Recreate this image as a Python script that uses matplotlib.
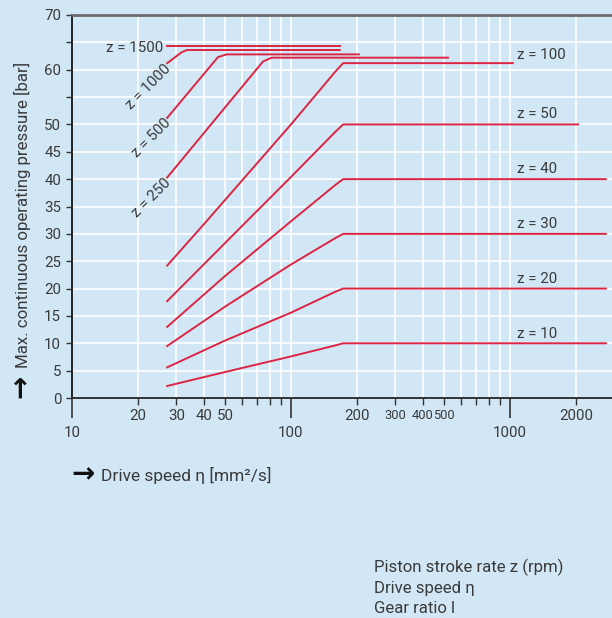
import matplotlib
matplotlib.use("Agg")
import matplotlib.pyplot as plt
from matplotlib.ticker import FixedLocator, FixedFormatter

# ---- data ----
x_z1500 = [27.2, 167]
y_z1500 = [64.3, 64.3]
x_z1000 = [27.2, 31.7, 33.5, 167]
y_z1000 = [61.2, 63.2, 63.6, 63.6]
x_z500 = [27.2, 46.4, 50.8, 204]
y_z500 = [51.2, 62.3, 62.8, 62.8]
x_z250 = [27.2, 74.5, 81.6, 521]
y_z250 = [40.3, 61.5, 62.2, 62.2]
x_z100 = [27.2, 40.5, 100, 159, 173, 1030]
y_z100 = [24.2, 32.0, 50.0, 59.6, 61.2, 61.2]
x_z50 = [27.2, 62.8, 100, 159, 173, 2047]
y_z50 = [17.7, 32.3, 40.4, 48.6, 50.0, 50.0]
x_z40 = [27.2, 50, 100, 159, 173, 2740]
y_z40 = [13.0, 22.3, 32.3, 38.9, 40.0, 40.0]
x_z30 = [27.2, 50, 100, 159, 173, 2740]
y_z30 = [9.5, 16.7, 24.4, 29.2, 30.0, 30.0]
x_z20 = [27.2, 50, 100, 159, 173, 2740]
y_z20 = [5.6, 10.5, 15.6, 19.4, 20.0, 20.0]
x_z10 = [27.2, 50, 100, 159, 173, 2740]
y_z10 = [2.2, 4.75, 7.6, 9.6, 10.0, 10.0]

x_major_ticks = [10, 100, 1000]
x_major_labels = ["10", "100", "1000"]
x_minor_ticks = [20, 30, 40, 50, 60, 70, 80, 90,
                 200, 300, 400, 500, 600, 700, 800, 900, 2000]
x_minor_labels = ["20", "30", "40", "50", "", "", "", "",
                  "200", "300", "400", "500", "", "", "", "", "2000"]
y_ticks = [0, 5, 10, 15, 20, 25, 30, 35, 40, 45, 50, 55, 60, 65, 70]
y_labels = ["0", "5", "10", "15", "20", "25", "30", "35", "40", "45", "50",
            "", "60", "", "70"]

# labels at right end of the lower curves (label centres)
right_label_text = ["z = 100", "z = 50", "z = 40", "z = 30", "z = 20", "z = 10"]
right_label_y = [62.6, 51.9, 41.8, 31.8, 21.8, 11.7]
right_label_x = 1077
# rotated labels at left
left_label_text = ["z = 1000", "z = 500", "z = 250"]
left_label_y = [61.2, 51.2, 40.3]

# ---- style ----
BG = "#d2e7f6"
RED = "#dc2543"
TXT = "#3a3a3a"
FONT = ["Roboto", "DejaVu Sans"]
plt.rcParams["font.family"] = FONT

fig = plt.figure(figsize=(6.12, 6.18), dpi=100, facecolor=BG)
ax = fig.add_axes([72 / 612, 220 / 618, 540 / 612, 383 / 618], facecolor=BG)
ax.set_xscale("log")
ax.set_xlim(10, 2923)
ax.set_ylim(0, 70)

xs = [x_z1500, x_z1000, x_z500, x_z250, x_z100, x_z50, x_z40, x_z30, x_z20, x_z10]
ys = [y_z1500, y_z1000, y_z500, y_z250, y_z100, y_z50, y_z40, y_z30, y_z20, y_z10]
for xv, yv in zip(xs, ys):
    ax.plot(xv, yv, color=RED, lw=1.4, solid_joinstyle="round", zorder=3)

# ticks
ax.xaxis.set_major_locator(FixedLocator(x_major_ticks))
ax.xaxis.set_major_formatter(FixedFormatter(x_major_labels))
ax.xaxis.set_minor_locator(FixedLocator(x_minor_ticks))
ax.xaxis.set_minor_formatter(FixedFormatter(x_minor_labels))
ax.yaxis.set_major_locator(FixedLocator(y_ticks))
ax.yaxis.set_major_formatter(FixedFormatter(y_labels))

ax.tick_params(axis="x", which="major", length=14.4, width=1.2, pad=6,
               colors="#333333", labelsize=10.8, labelcolor=TXT)
ax.tick_params(axis="x", which="minor", length=5, width=1.0, pad=3,
               colors="#333333", labelsize=10.8, labelcolor=TXT)
ax.tick_params(axis="y", which="major", length=4.3, width=1.0, pad=3.5,
               colors="#333333", labelsize=10.8, labelcolor=TXT)
for lab in ax.xaxis.get_minorticklabels():
    if lab.get_text() in ("300", "400", "500"):
        lab.set_fontsize(9.3)

ax.grid(True, which="both", axis="x", color="white", lw=1.2)
ax.grid(True, which="major", axis="y", color="white", lw=1.2)
ax.set_axisbelow(True)

ax.spines["right"].set_visible(False)
ax.spines["top"].set_color("#6a6a6a")
ax.spines["top"].set_linewidth(2.0)
ax.spines["left"].set_color("#222222")
ax.spines["left"].set_linewidth(1.4)
ax.spines["bottom"].set_color("#333333")
ax.spines["bottom"].set_linewidth(1.4)

# in-chart labels
ax.text(26.0, 63.9, "z = 1500", ha="right", va="center",
        fontsize=10.8, color=TXT)
for t, yv in zip(left_label_text, left_label_y):
    ax.text(26.3, yv + 0.3, t, ha="right", va="top", rotation=45,
            rotation_mode="anchor", fontsize=10.8, color=TXT)
for t, yv in zip(right_label_text, right_label_y):
    ax.text(right_label_x, yv, t, ha="left", va="center",
            fontsize=10.8, color=TXT)

# axis labels
fig.text(21 / 612, 1 - 386 / 618, "\u2192", rotation=90, ha="center",
         va="center", fontsize=20, fontweight="bold", color="#111111",
         family=["DejaVu Sans"])
fig.text(22 / 612, 1 - 215 / 618, "Max. continuous operating pressure [bar]",
         rotation=90, ha="center", va="center", fontsize=12.2, color=TXT)
fig.text(83 / 612, 1 - 474 / 618, "\u2192", ha="center", va="center",
         fontsize=20, fontweight="bold", color="#111111",
         family=["DejaVu Sans"])
fig.text(101 / 612, 1 - 475 / 618, "Drive speed \u03b7 [mm\u00b2/s]", ha="left",
         va="center", fontsize=12.5, color=TXT)

# notes
notes = ["Piston stroke rate z (rpm)", "Drive speed \u03b7", "Gear ratio l"]
baselines = [572, 593, 613]
for t, b in zip(notes, baselines):
    fig.text(374 / 612, 1 - b / 618, t, ha="left", va="baseline",
             fontsize=12.1, color=TXT)

fig.savefig("out.png", dpi=100, facecolor=BG)
